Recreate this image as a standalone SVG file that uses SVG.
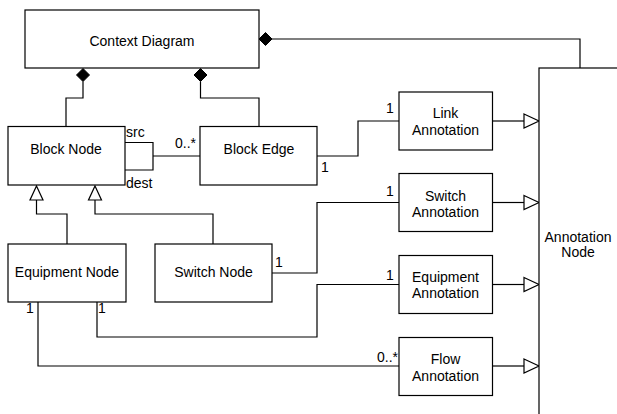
<svg xmlns="http://www.w3.org/2000/svg" width="617" height="414" viewBox="0 0 617 414">
<style>
.box{fill:#fff;stroke:#000;stroke-width:1.2}
.ln{fill:none;stroke:#000;stroke-width:1.2}
.dia{fill:#000;stroke:#000;stroke-width:1}
.tri{fill:#fff;stroke:#000;stroke-width:1.2}
text{font-family:"Liberation Sans",Arial,Helvetica,sans-serif;font-size:14px;fill:#000}
.c{text-anchor:middle}
</style>
<rect width="617" height="414" fill="#fff"/>
<g id="connectors">
<polygon class="dia" points="83,68.5 89.5,75 83,81.5 76.5,75"/>
<path class="ln" d="M83,81.5 V98 H66 V126.5"/>
<polygon class="dia" points="200.5,68.5 207,75 200.5,81.5 194,75"/>
<path class="ln" d="M200.5,81.5 V98 H259 V126.5"/>
<polygon class="dia" points="259,39 265.5,32.5 272,39 265.5,45.5"/>
<path class="ln" d="M272,39 H580 V68"/>
<path class="ln" d="M125,142.5 H153 V170 H125"/>
<path class="ln" d="M153,156 H200"/>
<path class="ln" d="M317,156 H358 V121 H399"/>
<path class="ln" d="M272,273 H317 V202.5 H399"/>
<path class="ln" d="M97,302 V337 H317 V284.5 H399"/>
<path class="ln" d="M38,302 V366 H399"/>
<path class="ln" d="M67,244 V214 H36.5 V200"/>
<polygon class="tri" points="36.5,186 43,200 30,200"/>
<path class="ln" d="M213,244 V214 H95 V200"/>
<polygon class="tri" points="95,186 101.5,200 88.5,200"/>
<path class="ln" d="M492.5,121 H524"/>
<polygon class="tri" points="524,114 539,121 524,128"/>
<path class="ln" d="M492.5,202.5 H524"/>
<polygon class="tri" points="524,195.5 539,202.5 524,209.5"/>
<path class="ln" d="M492.5,284.5 H524"/>
<polygon class="tri" points="524,277.5 539,284.5 524,291.5"/>
<path class="ln" d="M492.5,366 H524"/>
<polygon class="tri" points="524,359 539,366 524,373"/>
<text x="126" y="137">src</text>
<text x="126" y="188">dest</text>
<text x="175" y="148">0..*</text>
<text x="321" y="172">1</text>
<text x="386" y="113">1</text>
<text x="275" y="267">1</text>
<text x="386" y="196">1</text>
<text x="386" y="279.5">1</text>
<text x="377" y="362">0..*</text>
<text x="26" y="312.5">1</text>
<text x="98" y="312.5">1</text>
</g>
<g id="context-diagram">
<rect class="box" x="25" y="10" width="234" height="58"/>
<text class="c" x="142" y="45.5">Context Diagram</text>
</g>
<g id="block-node">
<rect class="box" x="8" y="126.5" width="117" height="58.5"/>
<text class="c" x="66" y="153.5">Block Node</text>
</g>
<g id="block-edge">
<rect class="box" x="200" y="126.5" width="117" height="58.5"/>
<text class="c" x="259" y="153.5">Block Edge</text>
</g>
<g id="equipment-node">
<rect class="box" x="8" y="244" width="118" height="58"/>
<text class="c" x="67" y="277">Equipment Node</text>
</g>
<g id="switch-node">
<rect class="box" x="155" y="244" width="117" height="58"/>
<text class="c" x="213.5" y="277">Switch Node</text>
</g>
<g id="link-annotation">
<rect class="box" x="399" y="92" width="93.5" height="58"/>
<text class="c" x="445.5" y="118">Link</text>
<text class="c" x="445.5" y="135">Annotation</text>
</g>
<g id="switch-annotation">
<rect class="box" x="399" y="173.5" width="93.5" height="58"/>
<text class="c" x="445.5" y="200.5">Switch</text>
<text class="c" x="445.5" y="216.5">Annotation</text>
</g>
<g id="equipment-annotation">
<rect class="box" x="399" y="255.5" width="93.5" height="58"/>
<text class="c" x="445.5" y="281.5">Equipment</text>
<text class="c" x="445.5" y="298">Annotation</text>
</g>
<g id="flow-annotation">
<rect class="box" x="399" y="337.5" width="93.5" height="58"/>
<text class="c" x="445.5" y="364">Flow</text>
<text class="c" x="445.5" y="380.5">Annotation</text>
</g>
<g id="annotation-node">
<rect class="box" x="539" y="68" width="200" height="400"/>
<text class="c" x="578" y="241.5">Annotation</text>
<text class="c" x="578" y="257">Node</text>
</g>
</svg>
